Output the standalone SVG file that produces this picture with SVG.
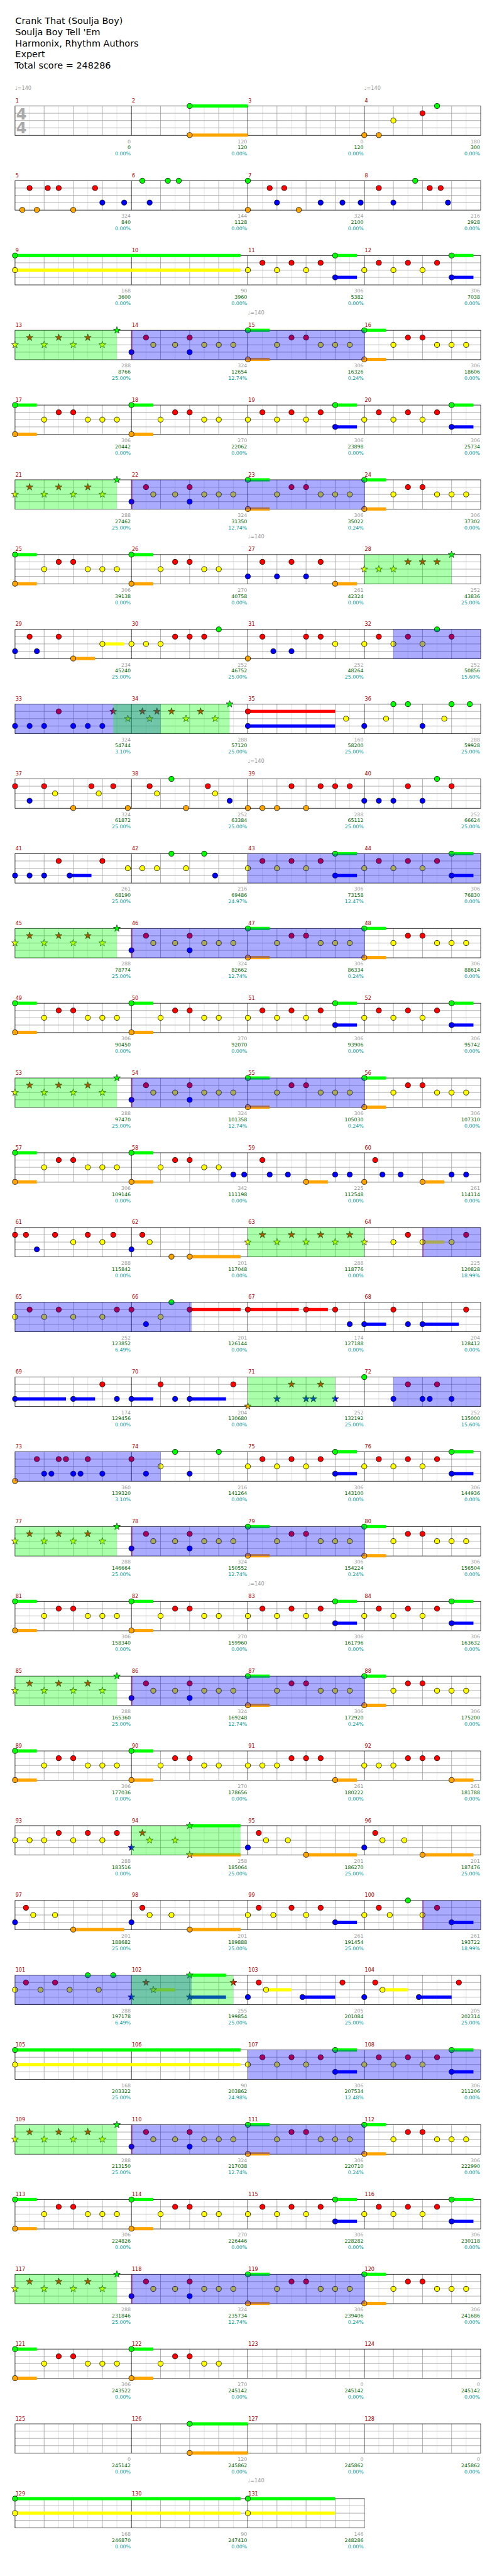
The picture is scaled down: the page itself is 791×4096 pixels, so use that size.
<svg xmlns="http://www.w3.org/2000/svg" width="791" height="4096" viewBox="0 0 791 4096">
<style>
.tt{font:18.7px 'DejaVu Sans',sans-serif;fill:#000}
.mn{font:10.5px 'DejaVu Sans',sans-serif;fill:#a00}
.n1{font:10.2px 'DejaVu Sans',sans-serif;fill:#999;text-anchor:end}
.n2{font:10.2px 'DejaVu Sans',sans-serif;fill:#060;text-anchor:end}
.n3{font:10.2px 'DejaVu Sans',sans-serif;fill:#099;text-anchor:end}
.tp{font:10.5px 'DejaVu Sans',sans-serif;fill:#999}
.ts{font:bold 31px 'DejaVu Sans',sans-serif;fill:#aaa;text-anchor:middle}
.zG{fill:#0f0}.zR{fill:#f00}.zY{fill:#ff0}.zB{fill:#00f}.zO{fill:#ffa500}
.og{fill:#0f0;opacity:.333}.ob{fill:#00f;opacity:.333}.or{fill:#f00;opacity:.333}
</style>
<defs>
<circle id="G" r="5.3" fill="#0f0" stroke="#000"/>
<circle id="R" cy="15" r="5.3" fill="#f00" stroke="#000"/>
<circle id="Y" cy="30" r="5.3" fill="#ff0" stroke="#000"/>
<circle id="B" cy="45" r="5.3" fill="#00f" stroke="#000"/>
<circle id="O" cy="60" r="5.3" fill="#ffa500" stroke="#000"/>
<path id="st" d="M0-7.5L1.76-2.43 7.13-2.32 2.85.93 4.41 6.07 0 3-4.41 6.07-2.85.93-7.13-2.32-1.76-2.43Z" stroke="#000" stroke-width=".8"/>
<use id="sG" href="#st" fill="#0f0"/>
<use id="sR" href="#st" y="15" fill="#f00"/>
<use id="sY" href="#st" y="30" fill="#ff0"/>
<use id="sB" href="#st" y="45" fill="#00f"/>
<use id="sO" href="#st" y="60" fill="#ffa500"/>
<g id="staff">
<rect x="31" width="960" height="60.5" fill="#fff"/>
<path d="M61 0V60M121 0V60M181 0V60M241 0V60M301 0V60M361 0V60M421 0V60M481 0V60M541 0V60M601 0V60M661 0V60M721 0V60M781 0V60M841 0V60M901 0V60M961 0V60" stroke="#ddd"/>
<path d="M91 0V60M151 0V60M211 0V60M331 0V60M391 0V60M451 0V60M571 0V60M631 0V60M691 0V60M811 0V60M871 0V60M931 0V60M31 15H991M31 30H991M31 45H991" stroke="#999"/>
<path d="M271 0V60M511 0V60M751 0V60" stroke="#000"/>
<rect x="31" width="960" height="60.5" fill="none" stroke="#000"/>
</g>
<g id="pB1">
<rect class="zG" x="31" y="-3.3" width="45" height="6.6"/><rect class="zO" x="31" y="56.7" width="45" height="6.6"/>
<rect class="zG" x="271" y="-3.3" width="45" height="6.6"/><rect class="zO" x="271" y="56.7" width="45" height="6.6"/>
<use href="#G" x="31"/><use href="#O" x="31"/><use href="#Y" x="91"/><use href="#R" x="121"/><use href="#R" x="151"/><use href="#Y" x="181"/><use href="#Y" x="211"/><use href="#Y" x="241"/>
<use href="#G" x="271"/><use href="#O" x="271"/><use href="#Y" x="331"/><use href="#R" x="361"/><use href="#R" x="391"/><use href="#Y" x="421"/><use href="#Y" x="451"/>
</g>
<g id="pB2">
<rect class="zG" x="691" y="-3.3" width="45" height="6.6"/><rect class="zB" x="691" y="41.7" width="45" height="6.6"/>
<rect class="zG" x="931" y="-3.3" width="45" height="6.6"/><rect class="zB" x="931" y="41.7" width="45" height="6.6"/>
<use href="#Y" x="511"/><use href="#R" x="541"/><use href="#Y" x="571"/><use href="#R" x="601"/><use href="#Y" x="631"/><use href="#R" x="661"/><use href="#G" x="691"/><use href="#B" x="691"/>
<use href="#Y" x="751"/><use href="#R" x="781"/><use href="#Y" x="811"/><use href="#R" x="841"/><use href="#Y" x="871"/><use href="#R" x="901"/><use href="#G" x="931"/><use href="#B" x="931"/>
</g>
<g id="pB"><use href="#pB1"/><use href="#pB2"/></g>
<g id="pC"><use href="#pB2"/><rect class="ob" x="511" width="480" height="60.5"/></g>
<g id="pA">
<rect class="zG" x="511" y="-3.3" width="45" height="6.6"/><rect class="zO" x="511" y="56.7" width="45" height="6.6"/>
<rect class="zG" x="751" y="-3.3" width="45" height="6.6"/><rect class="zO" x="751" y="56.7" width="45" height="6.6"/>
<use href="#sY" x="31"/><use href="#sR" x="61"/><use href="#sY" x="91"/><use href="#sR" x="121"/><use href="#sY" x="151"/><use href="#sR" x="181"/><use href="#sY" x="211"/><use href="#sG" x="241"/>
<use href="#B" x="271"/><use href="#R" x="301"/><use href="#Y" x="316"/><use href="#Y" x="361"/><use href="#R" x="391"/><use href="#B" x="391"/><use href="#Y" x="421"/><use href="#Y" x="451"/><use href="#Y" x="481"/>
<use href="#G" x="511"/><use href="#O" x="511"/><use href="#Y" x="571"/><use href="#R" x="601"/><use href="#R" x="631"/><use href="#Y" x="661"/><use href="#Y" x="691"/><use href="#Y" x="721"/>
<use href="#G" x="751"/><use href="#O" x="751"/><use href="#Y" x="811"/><use href="#R" x="841"/><use href="#R" x="871"/><use href="#Y" x="901"/><use href="#Y" x="931"/><use href="#Y" x="961"/>
<rect class="og" x="31" width="210" height="60.5"/><rect class="or" x="271" width="3" height="60.5"/><rect class="ob" x="271" width="481" height="60.5"/>
</g>
</defs>
<rect width="791" height="4096" fill="#fff"/>
<g transform="scale(0.772)">
<g id="header">
<text class="tt" x="31.5" y="49.3">Crank That (Soulja Boy)</text>
<text class="tt" x="31.5" y="72.5">Soulja Boy Tell 'Em</text>
<text class="tt" x="31.5" y="95.5">Harmonix, Rhythm Authors</text>
<text class="tt" x="31.5" y="118.3">Expert</text>
<text class="tt" x="30" y="141.3">Total score = 248286</text>
</g>

<g id="row1" transform="translate(0 218.3)">
<use href="#staff"/>
<text class="ts" x="44" y="27.7">4</text><text class="ts" x="44" y="56.7">4</text>
<rect class="zG" x="391" y="-3.3" width="120" height="6.6"/><rect class="zO" x="391" y="56.7" width="120" height="6.6"/>
<use href="#G" x="391"/><use href="#O" x="391"/><use href="#O" x="751"/><use href="#O" x="781"/><use href="#Y" x="811"/><use href="#R" x="871"/><use href="#G" x="901"/>
<text class="tp" x="31" y="-33">♩=140</text><text class="tp" x="751" y="-33">♩=140</text>
<text class="mn" y="-7"><tspan x="32">1</tspan><tspan x="272">2</tspan><tspan x="512">3</tspan><tspan x="752">4</tspan></text>
<text class="n1" y="76.5"><tspan x="269.5">0</tspan><tspan x="509.5">120</tspan><tspan x="749.5">0</tspan><tspan x="989.5">180</tspan></text>
<text class="n2" y="89"><tspan x="269.5">0</tspan><tspan x="509.5">120</tspan><tspan x="749.5">120</tspan><tspan x="989.5">300</tspan></text>
<text class="n3" y="102"><tspan x="269.5">0.00%</tspan><tspan x="509.5">0.00%</tspan><tspan x="749.5">0.00%</tspan><tspan x="989.5">0.00%</tspan></text>
</g>

<g id="row2" transform="translate(0 372.3)">
<use href="#staff"/>
<use href="#O" x="46"/><use href="#R" x="61"/><use href="#O" x="76"/><use href="#R" x="98.5"/><use href="#R" x="121"/><use href="#O" x="151"/><use href="#R" x="196"/><use href="#B" x="211"/><use href="#B" x="256"/>
<use href="#G" x="293.5"/><use href="#B" x="308.5"/><use href="#G" x="346"/><use href="#G" x="368.5"/>
<use href="#G" x="511"/><use href="#O" x="511"/><use href="#R" x="556"/><use href="#B" x="571"/><use href="#R" x="586"/><use href="#O" x="616"/><use href="#B" x="661"/><use href="#B" x="706"/><use href="#B" x="743.5"/>
<use href="#R" x="781"/><use href="#B" x="811"/><use href="#G" x="856"/><use href="#R" x="886"/><use href="#R" x="908.5"/><use href="#B" x="923.5"/>
<text class="mn" y="-7"><tspan x="32">5</tspan><tspan x="272">6</tspan><tspan x="512">7</tspan><tspan x="752">8</tspan></text>
<text class="n1" y="76.5"><tspan x="269.5">324</tspan><tspan x="509.5">144</tspan><tspan x="749.5">324</tspan><tspan x="989.5">216</tspan></text>
<text class="n2" y="89"><tspan x="269.5">840</tspan><tspan x="509.5">1128</tspan><tspan x="749.5">2100</tspan><tspan x="989.5">2928</tspan></text>
<text class="n3" y="102"><tspan x="269.5">0.00%</tspan><tspan x="509.5">0.00%</tspan><tspan x="749.5">0.00%</tspan><tspan x="989.5">0.00%</tspan></text>
</g>

<g id="row3" transform="translate(0 526.3)">
<use href="#staff"/>
<rect class="zG" x="31" y="-3.3" width="465" height="6.6"/><rect class="zY" x="31" y="26.7" width="465" height="6.6"/>
<use href="#G" x="31"/><use href="#Y" x="31"/><use href="#pB2"/>
<text class="mn" y="-7"><tspan x="32">9</tspan><tspan x="272">10</tspan><tspan x="512">11</tspan><tspan x="752">12</tspan></text>
<text class="n1" y="76.5"><tspan x="269.5">168</tspan><tspan x="509.5">90</tspan><tspan x="749.5">306</tspan><tspan x="989.5">306</tspan></text>
<text class="n2" y="89"><tspan x="269.5">3600</tspan><tspan x="509.5">3960</tspan><tspan x="749.5">5382</tspan><tspan x="989.5">7038</tspan></text>
<text class="n3" y="102"><tspan x="269.5">0.00%</tspan><tspan x="509.5">0.00%</tspan><tspan x="749.5">0.00%</tspan><tspan x="989.5">0.00%</tspan></text>
</g>

<g id="row4" transform="translate(0 680.3)">
<use href="#staff"/><use href="#pA"/>
<text class="tp" x="511" y="-33">♩=140</text>
<text class="mn" y="-7"><tspan x="32">13</tspan><tspan x="272">14</tspan><tspan x="512">15</tspan><tspan x="752">16</tspan></text>
<text class="n1" y="76.5"><tspan x="269.5">288</tspan><tspan x="509.5">324</tspan><tspan x="749.5">306</tspan><tspan x="989.5">306</tspan></text>
<text class="n2" y="89"><tspan x="269.5">8766</tspan><tspan x="509.5">12654</tspan><tspan x="749.5">16326</tspan><tspan x="989.5">18606</tspan></text>
<text class="n3" y="102"><tspan x="269.5">25.00%</tspan><tspan x="509.5">12.74%</tspan><tspan x="749.5">0.24%</tspan><tspan x="989.5">0.00%</tspan></text>
</g>

<g id="row5" transform="translate(0 834.3)">
<use href="#staff"/><use href="#pB"/>
<text class="mn" y="-7"><tspan x="32">17</tspan><tspan x="272">18</tspan><tspan x="512">19</tspan><tspan x="752">20</tspan></text>
<text class="n1" y="76.5"><tspan x="269.5">306</tspan><tspan x="509.5">270</tspan><tspan x="749.5">306</tspan><tspan x="989.5">306</tspan></text>
<text class="n2" y="89"><tspan x="269.5">20442</tspan><tspan x="509.5">22062</tspan><tspan x="749.5">23898</tspan><tspan x="989.5">25734</tspan></text>
<text class="n3" y="102"><tspan x="269.5">0.00%</tspan><tspan x="509.5">0.00%</tspan><tspan x="749.5">0.00%</tspan><tspan x="989.5">0.00%</tspan></text>
</g>

<g id="row6" transform="translate(0 988.3)">
<use href="#staff"/><use href="#pA"/>
<text class="mn" y="-7"><tspan x="32">21</tspan><tspan x="272">22</tspan><tspan x="512">23</tspan><tspan x="752">24</tspan></text>
<text class="n1" y="76.5"><tspan x="269.5">288</tspan><tspan x="509.5">324</tspan><tspan x="749.5">306</tspan><tspan x="989.5">306</tspan></text>
<text class="n2" y="89"><tspan x="269.5">27462</tspan><tspan x="509.5">31350</tspan><tspan x="749.5">35022</tspan><tspan x="989.5">37302</tspan></text>
<text class="n3" y="102"><tspan x="269.5">25.00%</tspan><tspan x="509.5">12.74%</tspan><tspan x="749.5">0.24%</tspan><tspan x="989.5">0.00%</tspan></text>
</g>

<g id="row7" transform="translate(0 1142.3)">
<use href="#staff"/><use href="#pB1"/>
<rect class="zO" x="691" y="56.7" width="45" height="6.6"/>
<use href="#B" x="511"/><use href="#R" x="541"/><use href="#B" x="571"/><use href="#R" x="601"/><use href="#B" x="631"/><use href="#R" x="661"/><use href="#O" x="691"/>
<use href="#sY" x="751"/><use href="#sY" x="781"/><use href="#sY" x="811"/><use href="#sR" x="841"/><use href="#sR" x="871"/><use href="#sR" x="901"/><use href="#sG" x="931"/>
<rect class="og" x="751" width="180" height="60.5"/>
<text class="tp" x="511" y="-33">♩=140</text>
<text class="mn" y="-7"><tspan x="32">25</tspan><tspan x="272">26</tspan><tspan x="512">27</tspan><tspan x="752">28</tspan></text>
<text class="n1" y="76.5"><tspan x="269.5">306</tspan><tspan x="509.5">270</tspan><tspan x="749.5">261</tspan><tspan x="989.5">252</tspan></text>
<text class="n2" y="89"><tspan x="269.5">39138</tspan><tspan x="509.5">40758</tspan><tspan x="749.5">42324</tspan><tspan x="989.5">43836</tspan></text>
<text class="n3" y="102"><tspan x="269.5">0.00%</tspan><tspan x="509.5">0.00%</tspan><tspan x="749.5">0.00%</tspan><tspan x="989.5">25.00%</tspan></text>
</g>

<g id="row8" transform="translate(0 1296.3)">
<use href="#staff"/>
<rect class="zO" x="151" y="56.7" width="45" height="6.6"/><rect class="zY" x="211" y="26.7" width="45" height="6.6"/>
<use href="#B" x="31"/><use href="#R" x="61"/><use href="#B" x="76"/><use href="#R" x="121"/><use href="#O" x="151"/><use href="#Y" x="211"/>
<use href="#Y" x="271"/><use href="#Y" x="301"/><use href="#Y" x="331"/><use href="#R" x="361"/><use href="#R" x="391"/><use href="#R" x="421"/><use href="#G" x="451"/>
<use href="#O" x="511"/><use href="#R" x="541"/><use href="#B" x="563.5"/><use href="#B" x="601"/><use href="#R" x="631"/><use href="#R" x="661"/><use href="#Y" x="691"/>
<use href="#Y" x="751"/><use href="#R" x="781"/><use href="#Y" x="811"/><use href="#R" x="841"/><use href="#Y" x="871"/><use href="#G" x="901"/><use href="#R" x="931"/>
<rect class="ob" x="811" width="180" height="60.5"/>
<text class="mn" y="-7"><tspan x="32">29</tspan><tspan x="272">30</tspan><tspan x="512">31</tspan><tspan x="752">32</tspan></text>
<text class="n1" y="76.5"><tspan x="269.5">234</tspan><tspan x="509.5">252</tspan><tspan x="749.5">252</tspan><tspan x="989.5">252</tspan></text>
<text class="n2" y="89"><tspan x="269.5">45240</tspan><tspan x="509.5">46752</tspan><tspan x="749.5">48264</tspan><tspan x="989.5">50856</tspan></text>
<text class="n3" y="102"><tspan x="269.5">25.00%</tspan><tspan x="509.5">25.00%</tspan><tspan x="749.5">25.00%</tspan><tspan x="989.5">15.60%</tspan></text>
</g>

<g id="row9" transform="translate(0 1450.3)">
<use href="#staff"/>
<rect class="zR" x="511" y="11.7" width="180" height="6.6"/><rect class="zB" x="511" y="41.7" width="180" height="6.6"/>
<use href="#B" x="31"/><use href="#B" x="61"/><use href="#B" x="91"/><use href="#R" x="121"/><use href="#B" x="151"/><use href="#B" x="181"/><use href="#B" x="211"/>
<use href="#sR" x="233.5"/><use href="#sY" x="263.5"/><use href="#sR" x="293.5"/><use href="#sY" x="308.5"/><use href="#sR" x="323.5"/><use href="#sR" x="353.5"/><use href="#sY" x="383.5"/><use href="#sR" x="413.5"/><use href="#sY" x="443.5"/><use href="#sG" x="473.5"/>
<use href="#R" x="511"/><use href="#B" x="511"/><use href="#Y" x="713.5"/><use href="#B" x="751"/><use href="#Y" x="796"/><use href="#G" x="811"/><use href="#G" x="841"/><use href="#B" x="871"/><use href="#Y" x="916"/><use href="#G" x="931"/><use href="#G" x="968.5"/>
<rect class="ob" x="31" width="300" height="60.5"/><rect class="og" x="233.5" width="240" height="60.5"/>
<text class="mn" y="-7"><tspan x="32">33</tspan><tspan x="272">34</tspan><tspan x="512">35</tspan><tspan x="752">36</tspan></text>
<text class="n1" y="76.5"><tspan x="269.5">324</tspan><tspan x="509.5">288</tspan><tspan x="749.5">160</tspan><tspan x="989.5">288</tspan></text>
<text class="n2" y="89"><tspan x="269.5">54744</tspan><tspan x="509.5">57120</tspan><tspan x="749.5">58200</tspan><tspan x="989.5">59928</tspan></text>
<text class="n3" y="102"><tspan x="269.5">3.10%</tspan><tspan x="509.5">25.00%</tspan><tspan x="749.5">25.00%</tspan><tspan x="989.5">25.00%</tspan></text>
</g>

<g id="row10" transform="translate(0 1604.3)">
<use href="#staff"/>
<use href="#R" x="31"/><use href="#B" x="61"/><use href="#R" x="91"/><use href="#Y" x="113.5"/><use href="#O" x="151"/><use href="#R" x="188.5"/><use href="#Y" x="203.5"/><use href="#R" x="233.5"/><use href="#O" x="263.5"/>
<use href="#R" x="308.5"/><use href="#Y" x="323.5"/><use href="#G" x="353.5"/><use href="#O" x="383.5"/><use href="#R" x="428.5"/><use href="#Y" x="443.5"/><use href="#B" x="473.5"/>
<use href="#O" x="511"/><use href="#O" x="541"/><use href="#O" x="571"/><use href="#R" x="601"/><use href="#O" x="631"/><use href="#R" x="661"/><use href="#R" x="691"/><use href="#R" x="721"/>
<use href="#B" x="751"/><use href="#B" x="781"/><use href="#B" x="811"/><use href="#R" x="841"/><use href="#B" x="871"/><use href="#G" x="901"/><use href="#R" x="931"/>
<text class="tp" x="511" y="-33">♩=140</text>
<text class="mn" y="-7"><tspan x="32">37</tspan><tspan x="272">38</tspan><tspan x="512">39</tspan><tspan x="752">40</tspan></text>
<text class="n1" y="76.5"><tspan x="269.5">324</tspan><tspan x="509.5">252</tspan><tspan x="749.5">288</tspan><tspan x="989.5">252</tspan></text>
<text class="n2" y="89"><tspan x="269.5">61872</tspan><tspan x="509.5">63384</tspan><tspan x="749.5">65112</tspan><tspan x="989.5">66624</tspan></text>
<text class="n3" y="102"><tspan x="269.5">25.00%</tspan><tspan x="509.5">25.00%</tspan><tspan x="749.5">25.00%</tspan><tspan x="989.5">25.00%</tspan></text>
</g>

<g id="row11" transform="translate(0 1758.3)">
<use href="#staff"/>
<rect class="zB" x="143.5" y="41.7" width="45" height="6.6"/>
<use href="#B" x="31"/><use href="#B" x="61"/><use href="#B" x="91"/><use href="#R" x="121"/><use href="#B" x="143.5"/><use href="#R" x="211"/>
<use href="#Y" x="263.5"/><use href="#Y" x="293.5"/><use href="#Y" x="323.5"/><use href="#G" x="353.5"/><use href="#Y" x="383.5"/><use href="#G" x="421"/><use href="#B" x="443.5"/>
<use href="#pC"/>
<text class="mn" y="-7"><tspan x="32">41</tspan><tspan x="272">42</tspan><tspan x="512">43</tspan><tspan x="752">44</tspan></text>
<text class="n1" y="76.5"><tspan x="269.5">261</tspan><tspan x="509.5">216</tspan><tspan x="749.5">306</tspan><tspan x="989.5">306</tspan></text>
<text class="n2" y="89"><tspan x="269.5">68190</tspan><tspan x="509.5">69486</tspan><tspan x="749.5">73158</tspan><tspan x="989.5">76830</tspan></text>
<text class="n3" y="102"><tspan x="269.5">25.00%</tspan><tspan x="509.5">24.97%</tspan><tspan x="749.5">12.47%</tspan><tspan x="989.5">0.00%</tspan></text>
</g>

<g id="row12" transform="translate(0 1912.3)">
<use href="#staff"/><use href="#pA"/>
<text class="mn" y="-7"><tspan x="32">45</tspan><tspan x="272">46</tspan><tspan x="512">47</tspan><tspan x="752">48</tspan></text>
<text class="n1" y="76.5"><tspan x="269.5">288</tspan><tspan x="509.5">324</tspan><tspan x="749.5">306</tspan><tspan x="989.5">306</tspan></text>
<text class="n2" y="89"><tspan x="269.5">78774</tspan><tspan x="509.5">82662</tspan><tspan x="749.5">86334</tspan><tspan x="989.5">88614</tspan></text>
<text class="n3" y="102"><tspan x="269.5">25.00%</tspan><tspan x="509.5">12.74%</tspan><tspan x="749.5">0.24%</tspan><tspan x="989.5">0.00%</tspan></text>
</g>

<g id="row13" transform="translate(0 2066.3)">
<use href="#staff"/><use href="#pB"/>
<text class="mn" y="-7"><tspan x="32">49</tspan><tspan x="272">50</tspan><tspan x="512">51</tspan><tspan x="752">52</tspan></text>
<text class="n1" y="76.5"><tspan x="269.5">306</tspan><tspan x="509.5">270</tspan><tspan x="749.5">306</tspan><tspan x="989.5">306</tspan></text>
<text class="n2" y="89"><tspan x="269.5">90450</tspan><tspan x="509.5">92070</tspan><tspan x="749.5">93906</tspan><tspan x="989.5">95742</tspan></text>
<text class="n3" y="102"><tspan x="269.5">0.00%</tspan><tspan x="509.5">0.00%</tspan><tspan x="749.5">0.00%</tspan><tspan x="989.5">0.00%</tspan></text>
</g>

<g id="row14" transform="translate(0 2220.3)">
<use href="#staff"/><use href="#pA"/>
<text class="mn" y="-7"><tspan x="32">53</tspan><tspan x="272">54</tspan><tspan x="512">55</tspan><tspan x="752">56</tspan></text>
<text class="n1" y="76.5"><tspan x="269.5">288</tspan><tspan x="509.5">324</tspan><tspan x="749.5">306</tspan><tspan x="989.5">306</tspan></text>
<text class="n2" y="89"><tspan x="269.5">97470</tspan><tspan x="509.5">101358</tspan><tspan x="749.5">105030</tspan><tspan x="989.5">107310</tspan></text>
<text class="n3" y="102"><tspan x="269.5">25.00%</tspan><tspan x="509.5">12.74%</tspan><tspan x="749.5">0.24%</tspan><tspan x="989.5">0.00%</tspan></text>
</g>

<g id="row15" transform="translate(0 2374.3)">
<use href="#staff"/><use href="#pB1"/>
<rect class="zO" x="631" y="56.7" width="45" height="6.6"/><rect class="zO" x="871" y="56.7" width="45" height="6.6"/>
<use href="#B" x="481"/><use href="#B" x="503.5"/>
<use href="#R" x="541"/><use href="#B" x="556"/><use href="#B" x="593.5"/><use href="#O" x="631"/><use href="#B" x="691"/><use href="#B" x="721"/>
<use href="#O" x="751"/><use href="#R" x="773.5"/><use href="#B" x="788.5"/><use href="#B" x="826"/><use href="#O" x="871"/><use href="#B" x="931"/><use href="#B" x="961"/>
<text class="mn" y="-7"><tspan x="32">57</tspan><tspan x="272">58</tspan><tspan x="512">59</tspan><tspan x="752">60</tspan></text>
<text class="n1" y="76.5"><tspan x="269.5">306</tspan><tspan x="509.5">342</tspan><tspan x="749.5">225</tspan><tspan x="989.5">261</tspan></text>
<text class="n2" y="89"><tspan x="269.5">109146</tspan><tspan x="509.5">111198</tspan><tspan x="749.5">112548</tspan><tspan x="989.5">114114</tspan></text>
<text class="n3" y="102"><tspan x="269.5">0.00%</tspan><tspan x="509.5">0.00%</tspan><tspan x="749.5">0.00%</tspan><tspan x="989.5">0.00%</tspan></text>
</g>

<g id="row16" transform="translate(0 2528.3)">
<use href="#staff"/>
<rect class="zO" x="391" y="56.7" width="105" height="6.6"/><rect class="zY" x="871" y="26.7" width="45" height="6.6"/>
<use href="#R" x="31"/><use href="#R" x="53.5"/><use href="#B" x="76"/><use href="#R" x="113.5"/><use href="#Y" x="151"/><use href="#R" x="181"/><use href="#Y" x="211"/><use href="#R" x="233.5"/>
<use href="#B" x="271"/><use href="#R" x="293.5"/><use href="#Y" x="308.5"/><use href="#O" x="353.5"/><use href="#O" x="391"/>
<use href="#sY" x="511"/><use href="#sR" x="541"/><use href="#sY" x="571"/><use href="#sR" x="601"/><use href="#sY" x="631"/><use href="#sR" x="661"/><use href="#sY" x="691"/><use href="#sR" x="721"/><use href="#sY" x="751"/>
<use href="#Y" x="811"/><use href="#R" x="841"/><use href="#Y" x="871"/><use href="#Y" x="931"/><use href="#R" x="961"/>
<rect class="og" x="511" width="240" height="60.5"/><rect class="or" x="871" width="3" height="60.5"/><rect class="ob" x="871" width="120" height="60.5"/>
<text class="mn" y="-7"><tspan x="32">61</tspan><tspan x="272">62</tspan><tspan x="512">63</tspan><tspan x="752">64</tspan></text>
<text class="n1" y="76.5"><tspan x="269.5">288</tspan><tspan x="509.5">201</tspan><tspan x="749.5">288</tspan><tspan x="989.5">225</tspan></text>
<text class="n2" y="89"><tspan x="269.5">115842</tspan><tspan x="509.5">117048</tspan><tspan x="749.5">118776</tspan><tspan x="989.5">120828</tspan></text>
<text class="n3" y="102"><tspan x="269.5">0.00%</tspan><tspan x="509.5">0.00%</tspan><tspan x="749.5">0.00%</tspan><tspan x="989.5">18.99%</tspan></text>
</g>

<g id="row17" transform="translate(0 2682.3)">
<use href="#staff"/>
<rect class="zR" x="391" y="11.7" width="105" height="6.6"/><rect class="zR" x="511" y="11.7" width="105" height="6.6"/><rect class="zR" x="631" y="11.7" width="45" height="6.6"/>
<rect class="zB" x="751" y="41.7" width="45" height="6.6"/><rect class="zB" x="871" y="41.7" width="75" height="6.6"/>
<use href="#Y" x="31"/><use href="#R" x="61"/><use href="#Y" x="91"/><use href="#R" x="121"/><use href="#Y" x="151"/><use href="#Y" x="211"/><use href="#R" x="241"/>
<use href="#R" x="271"/><use href="#B" x="301"/><use href="#Y" x="331"/><use href="#G" x="353.5"/><use href="#R" x="391"/>
<use href="#R" x="511"/><use href="#R" x="631"/><use href="#R" x="691"/><use href="#B" x="721"/>
<use href="#B" x="751"/><use href="#R" x="811"/><use href="#B" x="841"/><use href="#B" x="871"/><use href="#R" x="961"/>
<rect class="ob" x="31" width="364" height="60.5"/>
<text class="mn" y="-7"><tspan x="32">65</tspan><tspan x="272">66</tspan><tspan x="512">67</tspan><tspan x="752">68</tspan></text>
<text class="n1" y="76.5"><tspan x="269.5">252</tspan><tspan x="509.5">201</tspan><tspan x="749.5">174</tspan><tspan x="989.5">204</tspan></text>
<text class="n2" y="89"><tspan x="269.5">123852</tspan><tspan x="509.5">126144</tspan><tspan x="749.5">127188</tspan><tspan x="989.5">128412</tspan></text>
<text class="n3" y="102"><tspan x="269.5">6.49%</tspan><tspan x="509.5">0.00%</tspan><tspan x="749.5">0.00%</tspan><tspan x="989.5">0.00%</tspan></text>
</g>

<g id="row18" transform="translate(0 2836.3)">
<use href="#staff"/>
<rect class="zB" x="31" y="41.7" width="105" height="6.6"/><rect class="zB" x="151" y="41.7" width="45" height="6.6"/><rect class="zB" x="271" y="41.7" width="45" height="6.6"/><rect class="zB" x="391" y="41.7" width="75" height="6.6"/>
<use href="#B" x="31"/><use href="#B" x="151"/><use href="#R" x="211"/><use href="#B" x="241"/>
<use href="#B" x="271"/><use href="#R" x="331"/><use href="#B" x="361"/><use href="#B" x="391"/><use href="#R" x="481"/>
<use href="#sO" x="511"/><use href="#sB" x="571"/><use href="#sR" x="601"/><use href="#sB" x="631"/><use href="#sB" x="646"/><use href="#sR" x="661"/><use href="#sB" x="691"/>
<use href="#G" x="751"/><use href="#B" x="811"/><use href="#R" x="841"/><use href="#B" x="871"/><use href="#B" x="886"/><use href="#R" x="901"/><use href="#B" x="931"/>
<rect class="og" x="511" width="180" height="60.5"/><rect class="ob" x="811" width="180" height="60.5"/>
<text class="mn" y="-7"><tspan x="32">69</tspan><tspan x="272">70</tspan><tspan x="512">71</tspan><tspan x="752">72</tspan></text>
<text class="n1" y="76.5"><tspan x="269.5">174</tspan><tspan x="509.5">204</tspan><tspan x="749.5">252</tspan><tspan x="989.5">252</tspan></text>
<text class="n2" y="89"><tspan x="269.5">129456</tspan><tspan x="509.5">130680</tspan><tspan x="749.5">132192</tspan><tspan x="989.5">135000</tspan></text>
<text class="n3" y="102"><tspan x="269.5">0.00%</tspan><tspan x="509.5">0.00%</tspan><tspan x="749.5">25.00%</tspan><tspan x="989.5">15.60%</tspan></text>
</g>

<g id="row19" transform="translate(0 2990.3)">
<use href="#staff"/>
<use href="#O" x="31"/><use href="#R" x="76"/><use href="#B" x="91"/><use href="#B" x="106"/><use href="#R" x="121"/><use href="#R" x="136"/><use href="#B" x="151"/><use href="#B" x="166"/><use href="#R" x="181"/><use href="#B" x="211"/>
<use href="#R" x="271"/><use href="#B" x="301"/><use href="#Y" x="331"/><use href="#G" x="361"/><use href="#B" x="391"/><use href="#G" x="451"/>
<rect class="ob" x="31" width="300" height="60.5"/>
<use href="#pB2"/>
<text class="mn" y="-7"><tspan x="32">73</tspan><tspan x="272">74</tspan><tspan x="512">75</tspan><tspan x="752">76</tspan></text>
<text class="n1" y="76.5"><tspan x="269.5">360</tspan><tspan x="509.5">216</tspan><tspan x="749.5">306</tspan><tspan x="989.5">306</tspan></text>
<text class="n2" y="89"><tspan x="269.5">139320</tspan><tspan x="509.5">141264</tspan><tspan x="749.5">143100</tspan><tspan x="989.5">144936</tspan></text>
<text class="n3" y="102"><tspan x="269.5">3.10%</tspan><tspan x="509.5">0.00%</tspan><tspan x="749.5">0.00%</tspan><tspan x="989.5">0.00%</tspan></text>
</g>

<g id="row20" transform="translate(0 3144.3)">
<use href="#staff"/><use href="#pA"/>
<text class="mn" y="-7"><tspan x="32">77</tspan><tspan x="272">78</tspan><tspan x="512">79</tspan><tspan x="752">80</tspan></text>
<text class="n1" y="76.5"><tspan x="269.5">288</tspan><tspan x="509.5">324</tspan><tspan x="749.5">306</tspan><tspan x="989.5">306</tspan></text>
<text class="n2" y="89"><tspan x="269.5">146664</tspan><tspan x="509.5">150552</tspan><tspan x="749.5">154224</tspan><tspan x="989.5">156504</tspan></text>
<text class="n3" y="102"><tspan x="269.5">25.00%</tspan><tspan x="509.5">12.74%</tspan><tspan x="749.5">0.24%</tspan><tspan x="989.5">0.00%</tspan></text>
</g>

<g id="row21" transform="translate(0 3298.3)">
<use href="#staff"/><use href="#pB"/>
<text class="tp" x="511" y="-33">♩=140</text>
<text class="mn" y="-7"><tspan x="32">81</tspan><tspan x="272">82</tspan><tspan x="512">83</tspan><tspan x="752">84</tspan></text>
<text class="n1" y="76.5"><tspan x="269.5">306</tspan><tspan x="509.5">270</tspan><tspan x="749.5">306</tspan><tspan x="989.5">306</tspan></text>
<text class="n2" y="89"><tspan x="269.5">158340</tspan><tspan x="509.5">159960</tspan><tspan x="749.5">161796</tspan><tspan x="989.5">163632</tspan></text>
<text class="n3" y="102"><tspan x="269.5">0.00%</tspan><tspan x="509.5">0.00%</tspan><tspan x="749.5">0.00%</tspan><tspan x="989.5">0.00%</tspan></text>
</g>

<g id="row22" transform="translate(0 3452.3)">
<use href="#staff"/><use href="#pA"/>
<text class="mn" y="-7"><tspan x="32">85</tspan><tspan x="272">86</tspan><tspan x="512">87</tspan><tspan x="752">88</tspan></text>
<text class="n1" y="76.5"><tspan x="269.5">288</tspan><tspan x="509.5">324</tspan><tspan x="749.5">306</tspan><tspan x="989.5">306</tspan></text>
<text class="n2" y="89"><tspan x="269.5">165360</tspan><tspan x="509.5">169248</tspan><tspan x="749.5">172920</tspan><tspan x="989.5">175200</tspan></text>
<text class="n3" y="102"><tspan x="269.5">25.00%</tspan><tspan x="509.5">12.74%</tspan><tspan x="749.5">0.24%</tspan><tspan x="989.5">0.00%</tspan></text>
</g>

<g id="row23" transform="translate(0 3606.3)">
<use href="#staff"/><use href="#pB1"/>
<rect class="zO" x="691" y="56.7" width="45" height="6.6"/><rect class="zO" x="931" y="56.7" width="45" height="6.6"/>
<use href="#Y" x="511"/><use href="#Y" x="541"/><use href="#Y" x="571"/><use href="#R" x="601"/><use href="#R" x="631"/><use href="#R" x="661"/><use href="#O" x="691"/>
<use href="#Y" x="751"/><use href="#Y" x="781"/><use href="#Y" x="811"/><use href="#R" x="841"/><use href="#R" x="871"/><use href="#R" x="901"/><use href="#O" x="931"/>
<text class="mn" y="-7"><tspan x="32">89</tspan><tspan x="272">90</tspan><tspan x="512">91</tspan><tspan x="752">92</tspan></text>
<text class="n1" y="76.5"><tspan x="269.5">306</tspan><tspan x="509.5">270</tspan><tspan x="749.5">261</tspan><tspan x="989.5">261</tspan></text>
<text class="n2" y="89"><tspan x="269.5">177036</tspan><tspan x="509.5">178656</tspan><tspan x="749.5">180222</tspan><tspan x="989.5">181788</tspan></text>
<text class="n3" y="102"><tspan x="269.5">0.00%</tspan><tspan x="509.5">0.00%</tspan><tspan x="749.5">0.00%</tspan><tspan x="989.5">0.00%</tspan></text>
</g>

<g id="row24" transform="translate(0 3760.3)">
<use href="#staff"/>
<rect class="zG" x="391" y="-3.3" width="105" height="6.6"/><rect class="zO" x="391" y="56.7" width="105" height="6.6"/><rect class="zO" x="631" y="56.7" width="105" height="6.6"/><rect class="zO" x="871" y="56.7" width="105" height="6.6"/>
<use href="#Y" x="31"/><use href="#Y" x="61"/><use href="#Y" x="91"/><use href="#R" x="121"/><use href="#Y" x="151"/><use href="#R" x="181"/><use href="#Y" x="211"/><use href="#R" x="241"/>
<use href="#sB" x="271"/><use href="#sR" x="293.5"/><use href="#sY" x="308.5"/><use href="#sY" x="361"/><use href="#sG" x="391"/><use href="#sO" x="391"/>
<use href="#B" x="511"/><use href="#R" x="533.5"/><use href="#Y" x="548.5"/><use href="#Y" x="593.5"/><use href="#O" x="631"/>
<use href="#B" x="751"/><use href="#R" x="773.5"/><use href="#Y" x="788.5"/><use href="#Y" x="833.5"/><use href="#O" x="871"/>
<rect class="og" x="271" width="225" height="60.5"/>
<text class="mn" y="-7"><tspan x="32">93</tspan><tspan x="272">94</tspan><tspan x="512">95</tspan><tspan x="752">96</tspan></text>
<text class="n1" y="76.5"><tspan x="269.5">288</tspan><tspan x="509.5">258</tspan><tspan x="749.5">201</tspan><tspan x="989.5">201</tspan></text>
<text class="n2" y="89"><tspan x="269.5">183516</tspan><tspan x="509.5">185064</tspan><tspan x="749.5">186270</tspan><tspan x="989.5">187476</tspan></text>
<text class="n3" y="102"><tspan x="269.5">0.00%</tspan><tspan x="509.5">25.00%</tspan><tspan x="749.5">25.00%</tspan><tspan x="989.5">25.00%</tspan></text>
</g>

<g id="row25" transform="translate(0 3914.3)">
<use href="#staff"/>
<rect class="zO" x="151" y="56.7" width="105" height="6.6"/><rect class="zO" x="391" y="56.7" width="105" height="6.6"/><rect class="zB" x="691" y="41.7" width="45" height="6.6"/><rect class="zB" x="931" y="41.7" width="45" height="6.6"/>
<use href="#B" x="31"/><use href="#R" x="53.5"/><use href="#Y" x="68.5"/><use href="#Y" x="113.5"/><use href="#O" x="151"/>
<use href="#B" x="271"/><use href="#R" x="293.5"/><use href="#Y" x="308.5"/><use href="#Y" x="353.5"/><use href="#O" x="391"/>
<use href="#Y" x="511"/><use href="#R" x="533.5"/><use href="#Y" x="563.5"/><use href="#R" x="601"/><use href="#Y" x="631"/><use href="#R" x="661"/><use href="#B" x="691"/>
<use href="#Y" x="751"/><use href="#R" x="781"/><use href="#Y" x="803.5"/><use href="#G" x="841"/><use href="#Y" x="871"/><use href="#R" x="901"/><use href="#B" x="931"/>
<rect class="or" x="871" width="3" height="60.5"/><rect class="ob" x="871" width="120" height="60.5"/>
<text class="mn" y="-7"><tspan x="32">97</tspan><tspan x="272">98</tspan><tspan x="512">99</tspan><tspan x="752">100</tspan></text>
<text class="n1" y="76.5"><tspan x="269.5">201</tspan><tspan x="509.5">201</tspan><tspan x="749.5">261</tspan><tspan x="989.5">261</tspan></text>
<text class="n2" y="89"><tspan x="269.5">188682</tspan><tspan x="509.5">189888</tspan><tspan x="749.5">191454</tspan><tspan x="989.5">193722</tspan></text>
<text class="n3" y="102"><tspan x="269.5">25.00%</tspan><tspan x="509.5">25.00%</tspan><tspan x="749.5">25.00%</tspan><tspan x="989.5">18.99%</tspan></text>
</g>

<g id="row26" transform="translate(0 4068.3)">
<use href="#staff"/>
<rect class="zY" x="316" y="26.7" width="45" height="6.6"/><rect class="zG" x="391" y="-3.3" width="75" height="6.6"/><rect class="zB" x="391" y="41.7" width="75" height="6.6"/>
<rect class="zY" x="548.5" y="26.7" width="52.5" height="6.6"/><rect class="zB" x="623.5" y="41.7" width="67.5" height="6.6"/><rect class="zY" x="788.5" y="26.7" width="52.5" height="6.6"/><rect class="zB" x="863.5" y="41.7" width="67.5" height="6.6"/>
<use href="#Y" x="31"/><use href="#R" x="53.5"/><use href="#Y" x="83.5"/><use href="#R" x="113.5"/><use href="#Y" x="143.5"/><use href="#G" x="181"/><use href="#Y" x="203.5"/><use href="#G" x="233.5"/>
<use href="#sB" x="271"/><use href="#sR" x="301"/><use href="#sY" x="316"/><use href="#sG" x="391"/><use href="#sB" x="391"/><use href="#sR" x="481"/>
<use href="#B" x="511"/><use href="#R" x="533.5"/><use href="#Y" x="548.5"/><use href="#B" x="623.5"/><use href="#R" x="706"/>
<use href="#B" x="751"/><use href="#R" x="773.5"/><use href="#Y" x="788.5"/><use href="#B" x="863.5"/><use href="#R" x="946"/>
<rect class="ob" x="31" width="364" height="60.5"/><rect class="og" x="271" width="210" height="60.5"/>
<text class="mn" y="-7"><tspan x="32">101</tspan><tspan x="272">102</tspan><tspan x="512">103</tspan><tspan x="752">104</tspan></text>
<text class="n1" y="76.5"><tspan x="269.5">288</tspan><tspan x="509.5">255</tspan><tspan x="749.5">205</tspan><tspan x="989.5">205</tspan></text>
<text class="n2" y="89"><tspan x="269.5">197178</tspan><tspan x="509.5">199854</tspan><tspan x="749.5">201084</tspan><tspan x="989.5">202314</tspan></text>
<text class="n3" y="102"><tspan x="269.5">6.49%</tspan><tspan x="509.5">25.00%</tspan><tspan x="749.5">25.00%</tspan><tspan x="989.5">25.00%</tspan></text>
</g>

<g id="row27" transform="translate(0 4222.3)">
<use href="#staff"/>
<rect class="zG" x="31" y="-3.3" width="465" height="6.6"/><rect class="zY" x="31" y="26.7" width="465" height="6.6"/>
<use href="#G" x="31"/><use href="#Y" x="31"/><use href="#pC"/>
<text class="mn" y="-7"><tspan x="32">105</tspan><tspan x="272">106</tspan><tspan x="512">107</tspan><tspan x="752">108</tspan></text>
<text class="n1" y="76.5"><tspan x="269.5">168</tspan><tspan x="509.5">90</tspan><tspan x="749.5">306</tspan><tspan x="989.5">306</tspan></text>
<text class="n2" y="89"><tspan x="269.5">203322</tspan><tspan x="509.5">203862</tspan><tspan x="749.5">207534</tspan><tspan x="989.5">211206</tspan></text>
<text class="n3" y="102"><tspan x="269.5">25.00%</tspan><tspan x="509.5">24.98%</tspan><tspan x="749.5">12.48%</tspan><tspan x="989.5">0.00%</tspan></text>
</g>

<g id="row28" transform="translate(0 4376.3)">
<use href="#staff"/><use href="#pA"/>
<text class="mn" y="-7"><tspan x="32">109</tspan><tspan x="272">110</tspan><tspan x="512">111</tspan><tspan x="752">112</tspan></text>
<text class="n1" y="76.5"><tspan x="269.5">288</tspan><tspan x="509.5">324</tspan><tspan x="749.5">306</tspan><tspan x="989.5">306</tspan></text>
<text class="n2" y="89"><tspan x="269.5">213150</tspan><tspan x="509.5">217038</tspan><tspan x="749.5">220710</tspan><tspan x="989.5">222990</tspan></text>
<text class="n3" y="102"><tspan x="269.5">25.00%</tspan><tspan x="509.5">12.74%</tspan><tspan x="749.5">0.24%</tspan><tspan x="989.5">0.00%</tspan></text>
</g>

<g id="row29" transform="translate(0 4530.3)">
<use href="#staff"/><use href="#pB"/>
<text class="mn" y="-7"><tspan x="32">113</tspan><tspan x="272">114</tspan><tspan x="512">115</tspan><tspan x="752">116</tspan></text>
<text class="n1" y="76.5"><tspan x="269.5">306</tspan><tspan x="509.5">270</tspan><tspan x="749.5">306</tspan><tspan x="989.5">306</tspan></text>
<text class="n2" y="89"><tspan x="269.5">224826</tspan><tspan x="509.5">226446</tspan><tspan x="749.5">228282</tspan><tspan x="989.5">230118</tspan></text>
<text class="n3" y="102"><tspan x="269.5">0.00%</tspan><tspan x="509.5">0.00%</tspan><tspan x="749.5">0.00%</tspan><tspan x="989.5">0.00%</tspan></text>
</g>

<g id="row30" transform="translate(0 4684.3)">
<use href="#staff"/><use href="#pA"/>
<text class="mn" y="-7"><tspan x="32">117</tspan><tspan x="272">118</tspan><tspan x="512">119</tspan><tspan x="752">120</tspan></text>
<text class="n1" y="76.5"><tspan x="269.5">288</tspan><tspan x="509.5">324</tspan><tspan x="749.5">306</tspan><tspan x="989.5">306</tspan></text>
<text class="n2" y="89"><tspan x="269.5">231846</tspan><tspan x="509.5">235734</tspan><tspan x="749.5">239406</tspan><tspan x="989.5">241686</tspan></text>
<text class="n3" y="102"><tspan x="269.5">25.00%</tspan><tspan x="509.5">12.74%</tspan><tspan x="749.5">0.24%</tspan><tspan x="989.5">0.00%</tspan></text>
</g>

<g id="row31" transform="translate(0 4838.3)">
<use href="#staff"/><use href="#pB1"/>
<text class="mn" y="-7"><tspan x="32">121</tspan><tspan x="272">122</tspan><tspan x="512">123</tspan><tspan x="752">124</tspan></text>
<text class="n1" y="76.5"><tspan x="269.5">306</tspan><tspan x="509.5">270</tspan><tspan x="749.5">0</tspan><tspan x="989.5">0</tspan></text>
<text class="n2" y="89"><tspan x="269.5">243522</tspan><tspan x="509.5">245142</tspan><tspan x="749.5">245142</tspan><tspan x="989.5">245142</tspan></text>
<text class="n3" y="102"><tspan x="269.5">0.00%</tspan><tspan x="509.5">0.00%</tspan><tspan x="749.5">0.00%</tspan><tspan x="989.5">0.00%</tspan></text>
</g>

<g id="row32" transform="translate(0 4992.3)">
<use href="#staff"/>
<rect class="zG" x="391" y="-3.3" width="120" height="6.6"/><rect class="zO" x="391" y="56.7" width="120" height="6.6"/>
<use href="#G" x="391"/><use href="#O" x="391"/>
<text class="mn" y="-7"><tspan x="32">125</tspan><tspan x="272">126</tspan><tspan x="512">127</tspan><tspan x="752">128</tspan></text>
<text class="n1" y="76.5"><tspan x="269.5">0</tspan><tspan x="509.5">120</tspan><tspan x="749.5">0</tspan><tspan x="989.5">0</tspan></text>
<text class="n2" y="89"><tspan x="269.5">245142</tspan><tspan x="509.5">245862</tspan><tspan x="749.5">245862</tspan><tspan x="989.5">245862</tspan></text>
<text class="n3" y="102"><tspan x="269.5">0.00%</tspan><tspan x="509.5">0.00%</tspan><tspan x="749.5">0.00%</tspan><tspan x="989.5">0.00%</tspan></text>
</g>

<g id="row33" transform="translate(0 5146.3)">
<use href="#staff"/>
<rect x="752" y="-2" width="260" height="65" fill="#fff"/>
<rect class="zG" x="31" y="-3.3" width="465" height="6.6"/><rect class="zY" x="31" y="26.7" width="465" height="6.6"/>
<rect class="zG" x="511" y="-3.3" width="180" height="6.6"/><rect class="zY" x="511" y="26.7" width="180" height="6.6"/>
<use href="#G" x="31"/><use href="#Y" x="31"/><use href="#G" x="511"/><use href="#Y" x="511"/>
<text class="tp" x="511" y="-33">♩=140</text>
<text class="mn" y="-7"><tspan x="32">129</tspan><tspan x="272">130</tspan><tspan x="512">131</tspan></text>
<text class="n1" y="76.5"><tspan x="269.5">168</tspan><tspan x="509.5">90</tspan><tspan x="749.5">146</tspan></text>
<text class="n2" y="89"><tspan x="269.5">246870</tspan><tspan x="509.5">247410</tspan><tspan x="749.5">248286</tspan></text>
<text class="n3" y="102"><tspan x="269.5">0.00%</tspan><tspan x="509.5">0.00%</tspan><tspan x="749.5">0.00%</tspan></text>
</g>
</g>
</svg>
